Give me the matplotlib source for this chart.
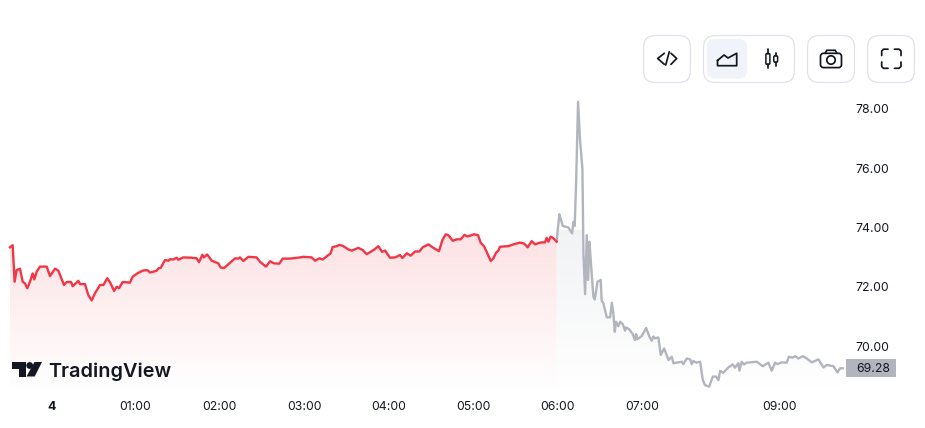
import numpy as np
import matplotlib
matplotlib.use("Agg")
import matplotlib.pyplot as plt
from matplotlib.patches import FancyBboxPatch, PathPatch, Polygon, Circle, Rectangle
from matplotlib.colors import LinearSegmentedColormap
from matplotlib.transforms import blended_transform_factory

plt.rcParams['font.family'] = ['Inter', 'DejaVu Sans']

# minutes since 00:00, price
red_t = [-29.2, -27.3, -25.9, -24.5, -22.1, -20.2, -18.5, -16.9, -15, -13.1, -11.9, -10.2, -7.9, -3.1, -0.75, 2.8, 5.2,
         9.2, 11.1, 14.2, 15.4, 19.4, 20.6, 24.1, 26.5, 28.9, 31.2, 34.8, 37.2, 40, 42.4, 44.8, 46.7, 48.3, 50.9, 56.1,
         58, 62, 65.6, 68.5, 70.4, 75.1, 76.3, 78, 81, 83.4, 84.6, 87, 89.3, 90.5, 94, 100, 103.5, 105.2, 107.6, 108.7,
         111, 114.2, 118.9, 120.6, 123, 127.2, 130.8, 133.2, 134.3, 136.7, 140.3, 146.2, 148.6, 152.8, 155.7, 158.5,
         162.3, 164.7, 167.5, 169.9, 177, 179.4, 185.3, 187.7, 190.8, 193.1, 197.2, 198.8, 200.2, 203.1, 205, 207.4,
         211.4, 213.8, 218.5, 221.6, 224.4, 227.3, 230.3, 232.7, 235.3, 237.5, 241, 244.6, 248.1, 249.8, 252.9, 255.7,
         258.8, 261.9, 264.2, 268.3, 271.3, 275.8, 278.2, 280.6, 282.5, 285.6, 288.4, 291.3, 293.9, 296, 298.4, 300.7,
         303.6, 305.5, 307.8, 309.7, 312.6, 314.5, 316.4, 318, 319.2, 325.1, 328.7, 333.4, 336.3, 338.9, 341.7, 344.1,
         347.7, 351.2, 352.4, 353.6, 355.2, 357.1, 359.5]
red_p = [73.33, 73.40, 72.17, 72.56, 72.61, 72.17, 72.11, 71.95, 72.17, 72.45, 72.25, 72.51, 72.68, 72.68, 72.36, 72.61, 72.54,
         72.06, 72.16, 72.16, 72.02, 72.20, 72.09, 72.09, 71.72, 71.54, 71.78, 72.06, 72.06, 72.29, 72.11, 71.86, 72.0, 71.95, 72.16, 72.14,
         72.34, 72.47, 72.55, 72.56, 72.48, 72.54, 72.62, 72.64, 72.90, 72.88, 72.93, 72.92, 72.98, 72.91, 72.99, 72.98, 72.96, 72.83, 73.08, 72.99,
         73.09, 72.88, 72.79, 72.65, 72.63, 72.81, 72.96, 72.95, 72.99, 72.87, 73.01, 72.99, 72.84, 72.68, 72.86, 72.79,
         72.78, 72.95, 72.95, 72.95, 72.99, 73.01, 72.99, 72.88, 72.96, 72.92, 73.07, 73.13, 73.34, 73.37, 73.41, 73.38,
         73.26, 73.22, 73.31, 73.24, 73.10, 73.18, 73.27, 73.37, 73.18, 73.22, 72.98, 72.99, 73.07, 72.97, 73.13, 73.05,
         73.19, 73.19, 73.33, 73.43, 73.33, 73.20, 73.57, 73.77, 73.74, 73.55, 73.60, 73.60, 73.75, 73.70, 73.73, 73.77,
         73.74, 73.48, 73.37, 73.18, 72.87, 72.96, 73.15, 73.22, 73.35, 73.37, 73.43, 73.49, 73.46, 73.33, 73.54, 73.43,
         73.49, 73.50, 73.65, 73.52, 73.69, 73.64, 73.52]

gray_t = [359.5, 361.4, 363.8, 367.8, 370.5, 371.4, 372.3, 373.3, 374.7, 376.1, 377.8, 378.5, 379.7, 380.9, 381.8, 382.8, 383.7,
          385.6, 386.6, 388.5, 390.8, 391.5, 392.7, 395.1, 397.5, 398.7, 399.8, 400.8, 401.7, 403.4, 404.6, 406.5, 408.1, 408.8,
          411.2, 413.6, 415.2, 416, 416.9, 420, 423.1, 425.4, 427.1, 428.3, 429.5, 431.8, 433.5, 435.9, 439, 441.3, 442.5,
          448.4, 449.6, 452, 454.4, 455.5, 456.7, 458.6, 461.5, 463.4, 465, 467.9, 470.5, 472.8, 474.5, 475.7, 478, 481.6,
          484.7, 486.3, 488.7, 489.4, 491.1, 492.7, 494.6, 501.8, 506, 510, 512.4, 514.8, 516.4, 519.5, 523, 524.7, 527.3,
          529, 531.4, 534.5, 537.3, 540.9, 545.6, 549.2, 551.5, 556.3, 559.1, 561, 562.9]
gray_p = [73.55, 74.45, 74.05, 74.00, 73.80, 74.19, 74.05, 75.49, 78.24, 76.95, 75.99, 73.13, 71.75, 73.74, 72.23, 73.52, 72.90,
          71.66, 71.57, 72.17, 72.23, 71.53, 71.44, 70.97, 70.97, 71.46, 71.10, 70.48, 70.82, 70.67, 70.82, 70.74, 70.52, 70.63,
          70.56, 70.40, 70.20, 70.40, 70.23, 70.34, 70.61, 70.32, 70.18, 70.32, 70.26, 70.29, 69.70, 69.92, 69.53, 69.64, 69.42,
          69.47, 69.39, 69.58, 69.55, 69.39, 69.50, 69.44, 69.47, 68.85, 68.68, 68.63, 68.97, 68.97, 68.85, 69.16, 69.10, 69.28,
          69.38, 69.27, 69.42, 69.17, 69.47, 69.38, 69.44, 69.47, 69.32, 69.44, 69.17, 69.44, 69.39, 69.45, 69.44, 69.64, 69.61,
          69.66, 69.58, 69.66, 69.58, 69.45, 69.55, 69.28, 69.36, 69.32, 69.11, 69.25, 69.25]

last_price = 69.28
x_ticks = [0, 60, 120, 180, 240, 300, 360, 420, 518]
x_labels = ['4', '01:00', '02:00', '03:00', '04:00', '05:00', '06:00', '07:00', '09:00']
y_ticks = [70, 72, 74, 76, 78]

W, H = 925, 428
fig = plt.figure(figsize=(W / 100, H / 100), dpi=100, facecolor='white')
ax = fig.add_axes([0, 1 - 392 / H, 846 / W, 300 / H])
ax.set_xlim(-36.3, 565.2)
ax.set_ylim(68.45, 78.57)
for s in ax.spines.values():
    s.set_visible(False)


def gradient_fill(t, p, color, top_alpha):
    # vertical fade, clipped to the area under the line
    poly = ax.fill_between(t, p, 68.45, color='none', lw=0)
    cmap = LinearSegmentedColormap.from_list('g', ['white', color])
    grad = np.linspace(top_alpha, 0, 256).reshape(-1, 1)
    im = ax.imshow(grad, extent=[t[0], t[-1], 68.45, 73.9], aspect='auto', cmap=cmap, vmin=0, vmax=1,
                   origin='upper', zorder=1)
    clip = poly.get_paths()[0]
    im.set_clip_path(PathPatch(clip, transform=ax.transData))


gradient_fill(red_t, red_p, '#f23645', 0.15)
gradient_fill(gray_t, gray_p, '#8f96a8', 0.12)
ax.set_xlim(-36.3, 565.2)
ax.set_ylim(68.45, 78.57)

ax.plot(gray_t, gray_p, color='#b2b5be', lw=1.7, zorder=3, solid_joinstyle='round')
ax.plot(red_t, red_p, color='#f23645', lw=1.7, zorder=4, solid_joinstyle='round')

ax.set_xticks(x_ticks, x_labels)
ax.yaxis.tick_right()
ax.set_yticks(y_ticks, [f'{v:.2f}' for v in y_ticks])
ax.tick_params(axis='x', length=0, pad=6.5, labelsize=8.8, labelcolor='#131722')
ax.tick_params(axis='y', length=0, pad=7, labelsize=8.8, labelcolor='#131722')
ax.get_xticklabels()[0].set_fontweight('bold')
for lab in ax.get_yticklabels():
    lab.set_verticalalignment('center_baseline')

# last price tag on the scale
tr = blended_transform_factory(ax.transAxes, ax.transData)
ax.add_patch(Rectangle((1.0, last_price - 0.31), 50 / 846, 0.58, transform=tr, facecolor='#b2b5be', edgecolor='none',
                       clip_on=False, zorder=5))
ax.text(1 + 10 / 846, last_price - 0.02, f'{last_price:.2f}', transform=tr, va='center_baseline', ha='left', fontsize=8.8,
        color='#131722', zorder=6)

# overlay in pixels for the toolbar and the logo
ov = fig.add_axes([0, 0, 1, 1], facecolor='none')
ov.set_xlim(0, W)
ov.set_ylim(H, 0)
ov.axis('off')

border = '#e0e3eb'
dark = '#131722'
for x0, x1 in [(643.5, 690.5), (703.5, 794.5), (807.5, 854.5), (867.5, 914.5)]:
    ov.add_patch(FancyBboxPatch((x0, 35.5), x1 - x0, 47, boxstyle='round,pad=0,rounding_size=12', fc='white', ec=border, lw=0.9))
ov.add_patch(FancyBboxPatch((707, 39), 40, 39.5, boxstyle='round,pad=0,rounding_size=8', fc='#f0f3fa', ec='none'))


def stroke(xs, ys, lw=1.25):
    ov.plot(xs, ys, color=dark, lw=lw, solid_capstyle='round', solid_joinstyle='round')


# code icon
stroke([664.3, 657.7, 664.3], [53.3, 58.5, 64.3])
stroke([671, 676.7, 671], [53.3, 58.5, 64.3])
stroke([665.7, 669.3], [65, 51.7])
# area icon
stroke([717.5, 724, 728, 736.7, 736.7, 717.5, 717.5], [60.5, 55, 58, 53.3, 65.7, 65.7, 60.5])
# candles icon
ov.add_patch(FancyBboxPatch((765.9, 53.5), 4, 10.8, boxstyle='round,pad=0,rounding_size=1.2', fc='none', ec=dark, lw=1.1))
stroke([767.9, 767.9], [49.3, 53.5])
stroke([767.9, 767.9], [64.3, 68.3])
ov.add_patch(FancyBboxPatch((773.8, 55.8), 3.8, 6.4, boxstyle='round,pad=0,rounding_size=1.2', fc='none', ec=dark, lw=1.1))
stroke([775.7, 775.7], [53.3, 55.8])
stroke([775.7, 775.7], [62.2, 65.7])
# camera icon
ov.add_patch(FancyBboxPatch((820.5, 53.3), 21, 14.3, boxstyle='round,pad=0,rounding_size=3', fc='none', ec=dark, lw=1.25))
stroke([825, 826.8, 835.2, 837], [53.3, 50.3, 50.3, 53.3])
ov.add_patch(Circle((831, 60), 4.2, fc='none', ec=dark, lw=1.25))
# fullscreen icon
stroke([881.7, 881.7, 883.5, 888], [55.5, 51, 49.2, 49.2])
stroke([894.5, 899, 901, 901], [49.2, 49.2, 51, 55.5])
stroke([881.7, 881.7, 883.5, 888], [62, 66.5, 68.3, 68.3])
stroke([894.5, 899, 901, 901], [68.3, 68.3, 66.5, 62])

# logo
ov.add_patch(Polygon([(12, 362), (26, 362), (26, 376.5), (19.3, 376.5), (19.3, 369), (12, 369)], fc=dark, ec='none'))
ov.add_patch(Circle((29.7, 365.5), 3.4, fc=dark, ec='none'))
ov.add_patch(Polygon([(34.5, 362), (42, 362), (34.7, 376.5), (26.5, 376.5)], fc=dark, ec='none'))
ov.text(48.5, 370, 'TradingView', fontsize=14.3, fontweight='semibold', color=dark, va='center_baseline', ha='left')

fig.savefig('out.png', dpi=100)
